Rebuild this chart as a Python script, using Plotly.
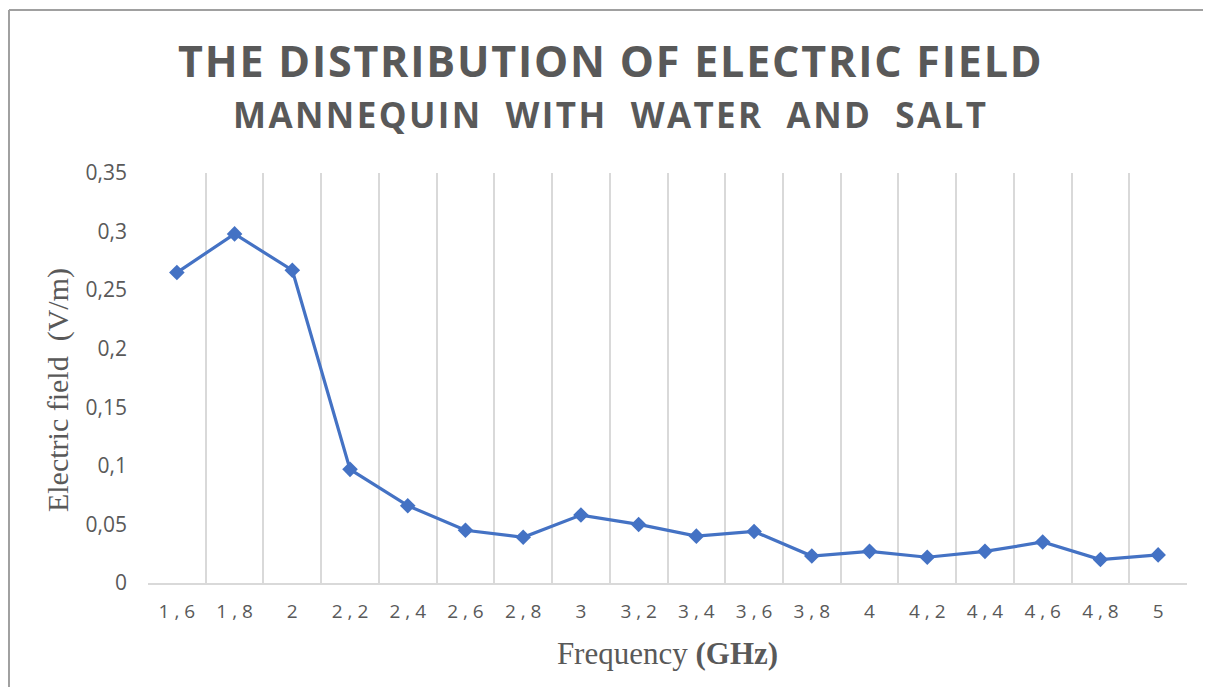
import plotly.graph_objects as go

# frequency categories (GHz) and measured field values (V/m)
freq_labels = ["1,6", "1,8", "2", "2,2", "2,4", "2,6", "2,8", "3", "3,2",
               "3,4", "3,6", "3,8", "4", "4,2", "4,4", "4,6", "4,8", "5"]
efield = [0.265, 0.298, 0.267, 0.097, 0.066, 0.045, 0.039, 0.058, 0.050,
          0.040, 0.044, 0.023, 0.027, 0.022, 0.027, 0.035, 0.020, 0.024]

y_ticks = [0, 0.05, 0.1, 0.15, 0.2, 0.25, 0.3, 0.35]

# the x labels in the original are letter-spaced
spaced = [" ".join(list(s)) for s in freq_labels]

fig = go.Figure()
fig.add_trace(go.Scatter(
    x=freq_labels,
    y=efield,
    mode='lines+markers',
    line=dict(color='#4472C4', width=3.2),
    marker=dict(symbol='diamond', size=12, color='#4472C4'),
    showlegend=False
))

# page body has an 8px margin, so the figure is drawn 8px in from the corner
fig.update_layout(
    width=1195, height=679,
    margin=dict(l=140, r=16, t=165, b=104),
    paper_bgcolor='white',
    plot_bgcolor='white',
    separators=', ',
    font=dict(family='Open Sans', color='#595959'),
)

# titles are centred on the whole chart area, not on the plot area
fig.add_annotation(
    text="<span style='letter-spacing:1.8px'>THE DISTRIBUTION OF ELECTRIC FIELD</span>",
    xref='paper', yref='paper', x=0.4447, y=1.2756,
    xanchor='center', yanchor='middle', showarrow=False,
    font=dict(family='Open Sans', size=43, color='#595959', weight='bold'),
)
fig.add_annotation(
    text="<span style='letter-spacing:2.4px'>MANNEQUIN  WITH  WATER  AND  SALT</span>",
    xref='paper', yref='paper', x=0.4447, y=1.1415,
    xanchor='center', yanchor='middle', showarrow=False,
    font=dict(family='Open Sans', size=35, color='#595959', weight='bold'),
)

# y-axis title
fig.add_annotation(
    text="Electric field  (V/m)",
    xref='paper', yref='paper', x=-0.0866, y=0.4707,
    xanchor='center', yanchor='middle', showarrow=False, textangle=-90,
    font=dict(family='Liberation Serif', size=30, color='#595959'),
)

fig.update_xaxes(
    type='category',
    tickvals=freq_labels,
    ticktext=spaced,
    tickson='boundaries',
    ticks='',
    showgrid=True, gridcolor='#D9D9D9', gridwidth=2,
    showline=True, linecolor='#D9D9D9', linewidth=2,
    tickfont=dict(family='Open Sans', size=19, color='#595959'),
    ticklabelstandoff=10,
    range=[-0.5, len(freq_labels) - 0.5],
    title=dict(
        text="Frequency <b>(GHz)</b>",
        font=dict(family='Liberation Serif', size=31, color='#595959'),
        standoff=20,
    ),
    zeroline=False,
)

fig.update_yaxes(
    range=[0, 0.35],
    tickvals=y_ticks,
    showgrid=False,
    zeroline=False,
    showline=False,
    ticks='',
    tickfont=dict(family='Open Sans', size=21, color='#595959'),
    ticklabelstandoff=20,
)

# chart-area frame (top and left edges visible in the original crop)
fig.add_shape(type='line', xref='paper', yref='paper',
              x0=-0.1338, x1=1.05, y0=1.3976, y1=1.3976,
              line=dict(color='#A0A0A0', width=2))
fig.add_shape(type='line', xref='paper', yref='paper',
              x0=-0.1338, x1=-0.1338, y0=-0.3, y1=1.3976,
              line=dict(color='#A0A0A0', width=2))

fig.write_html("out.html")
